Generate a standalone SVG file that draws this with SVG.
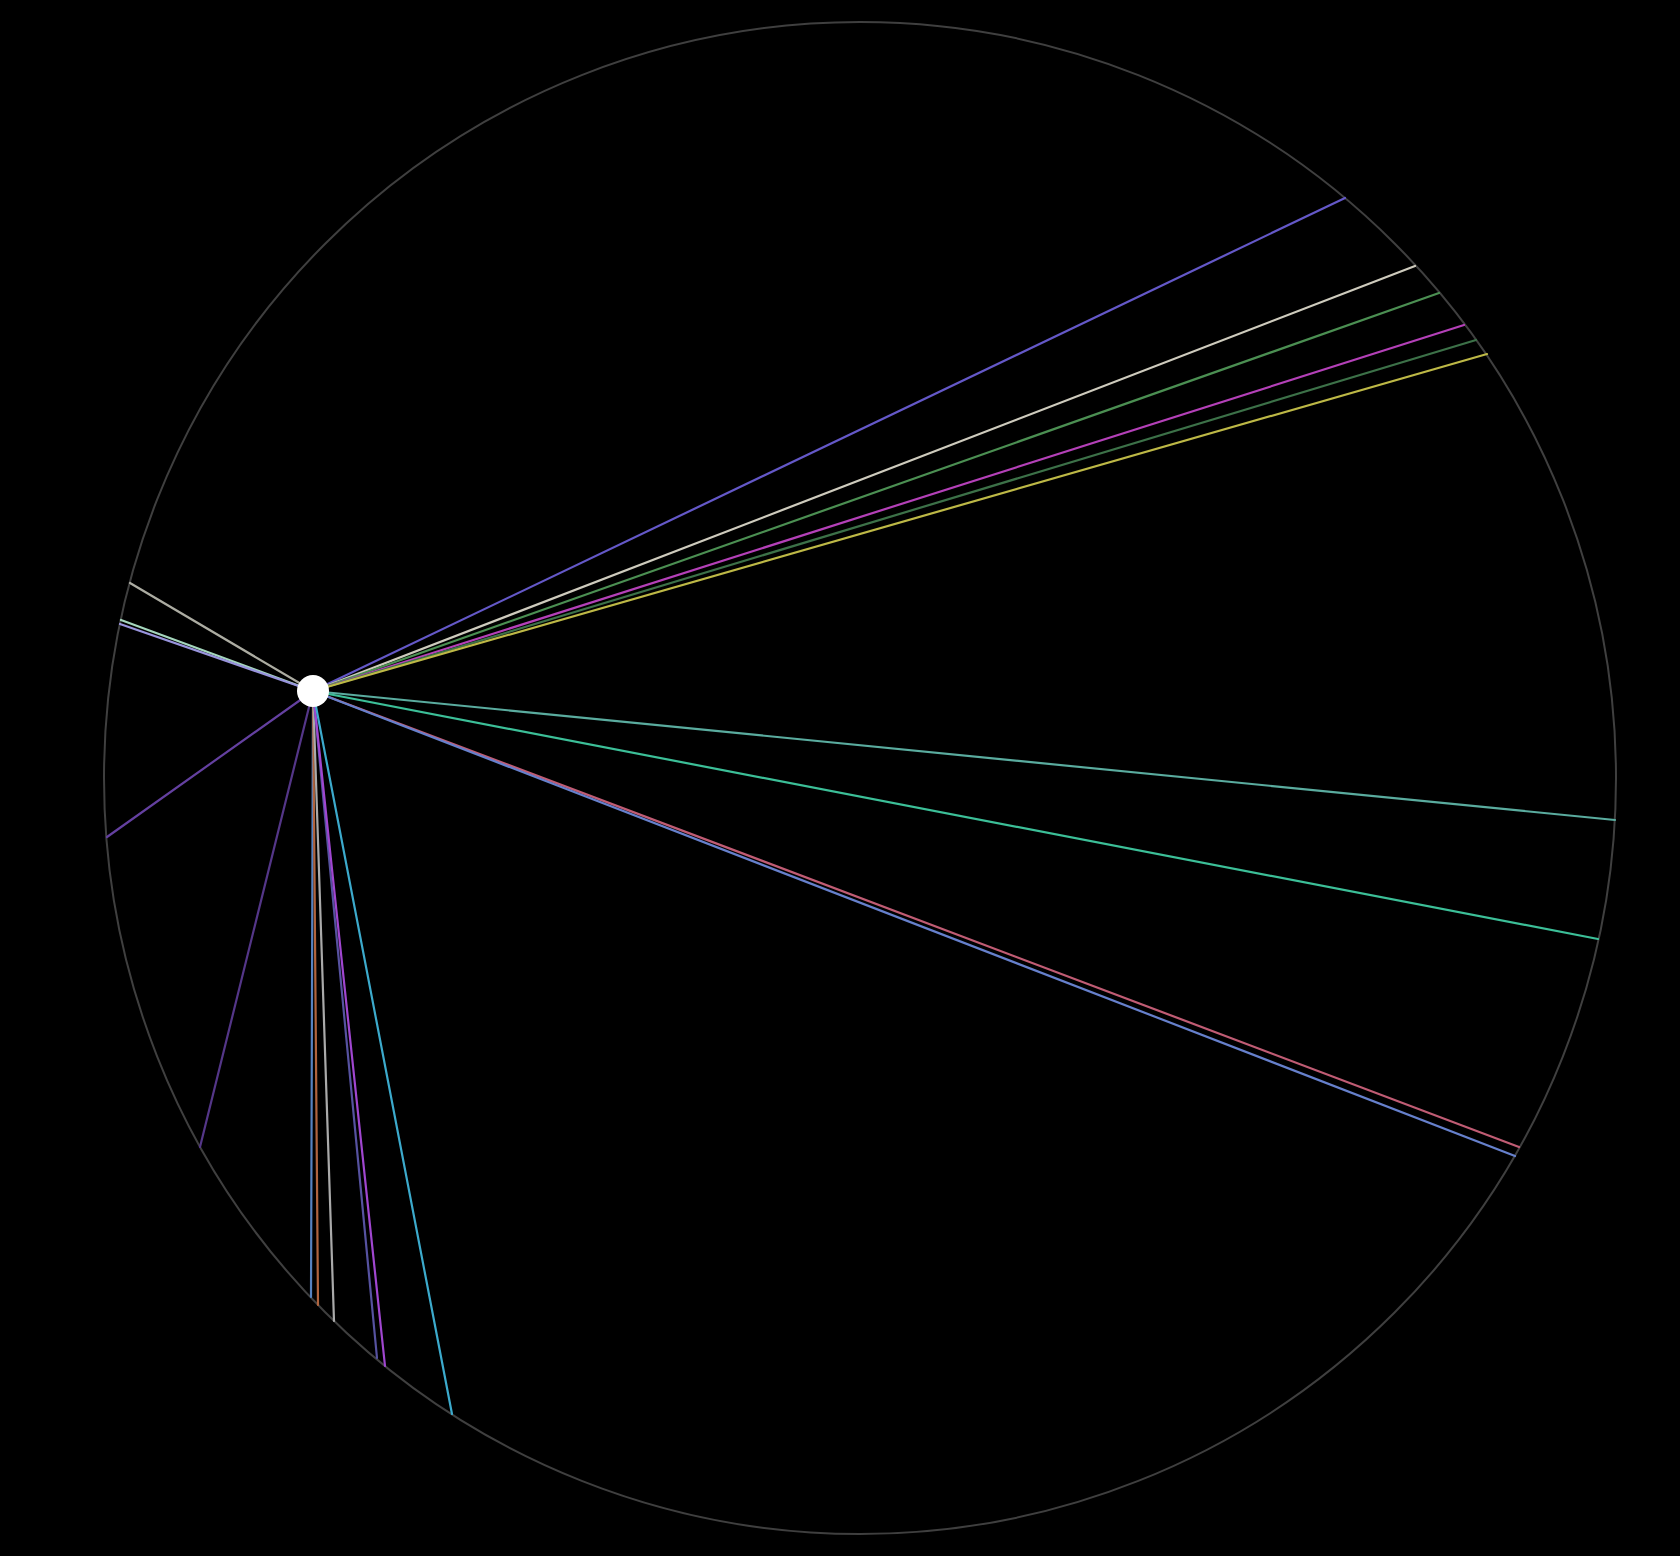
<svg xmlns="http://www.w3.org/2000/svg" width="1680" height="1556" viewBox="0 0 1680 1556">
<style>
.ray{stroke-width:2.2;fill:none;stroke-linecap:round}
</style>
<rect width="1680" height="1556" fill="#000"/>
<circle cx="860" cy="778" r="756" fill="none" stroke="#3f3f3f" stroke-width="2"/>
<g id="connectors">
<line class="ray" x1="313" y1="691" x2="1345" y2="198" stroke="#6458c8"/>
<line class="ray" x1="313" y1="691" x2="1415" y2="266" stroke="#cecbbd"/>
<line class="ray" x1="313" y1="691" x2="1439" y2="293" stroke="#4b8f52"/>
<line class="ray" x1="313" y1="691" x2="1464" y2="325" stroke="#b440b8"/>
<line class="ray" x1="313" y1="691" x2="1476" y2="340" stroke="#3c7148"/>
<line class="ray" x1="313" y1="691" x2="1487" y2="354" stroke="#bdb846"/>
<line class="ray" x1="313" y1="691" x2="1615" y2="820" stroke="#5aac9f"/>
<line class="ray" x1="313" y1="691" x2="1598" y2="939" stroke="#3cbf98" stroke-width="2.6"/>
<line class="ray" x1="313" y1="691" x2="1519" y2="1147" stroke="#c05c74"/>
<line class="ray" x1="313" y1="691" x2="1515" y2="1156" stroke="#6680cc"/>
<line class="ray" x1="313" y1="691" x2="130" y2="583" stroke="#acaca2"/>
<line class="ray" x1="313" y1="691" x2="121" y2="620" stroke="#a4d6bc"/>
<line class="ray" x1="313" y1="691" x2="120" y2="624" stroke="#9894dc"/>
<line class="ray" x1="313" y1="691" x2="107" y2="837" stroke="#6440a0"/>
<line class="ray" x1="313" y1="691" x2="200" y2="1147" stroke="#543688"/>
<line class="ray" x1="313" y1="691" x2="311" y2="1297" stroke="#5682c0"/>
<line class="ray" x1="313" y1="691" x2="318" y2="1305" stroke="#b0643e"/>
<line class="ray" x1="313" y1="691" x2="334" y2="1321" stroke="#aaaaaa"/>
<line class="ray" x1="313" y1="691" x2="377" y2="1358" stroke="#5652a0"/>
<line class="ray" x1="313" y1="691" x2="385" y2="1366" stroke="#a046d0"/>
<line class="ray" x1="313" y1="691" x2="452" y2="1414" stroke="#3caacc"/>
</g>
<g id="node-center">
<circle cx="313" cy="691" r="16" fill="#fff"/>
</g>
</svg>
